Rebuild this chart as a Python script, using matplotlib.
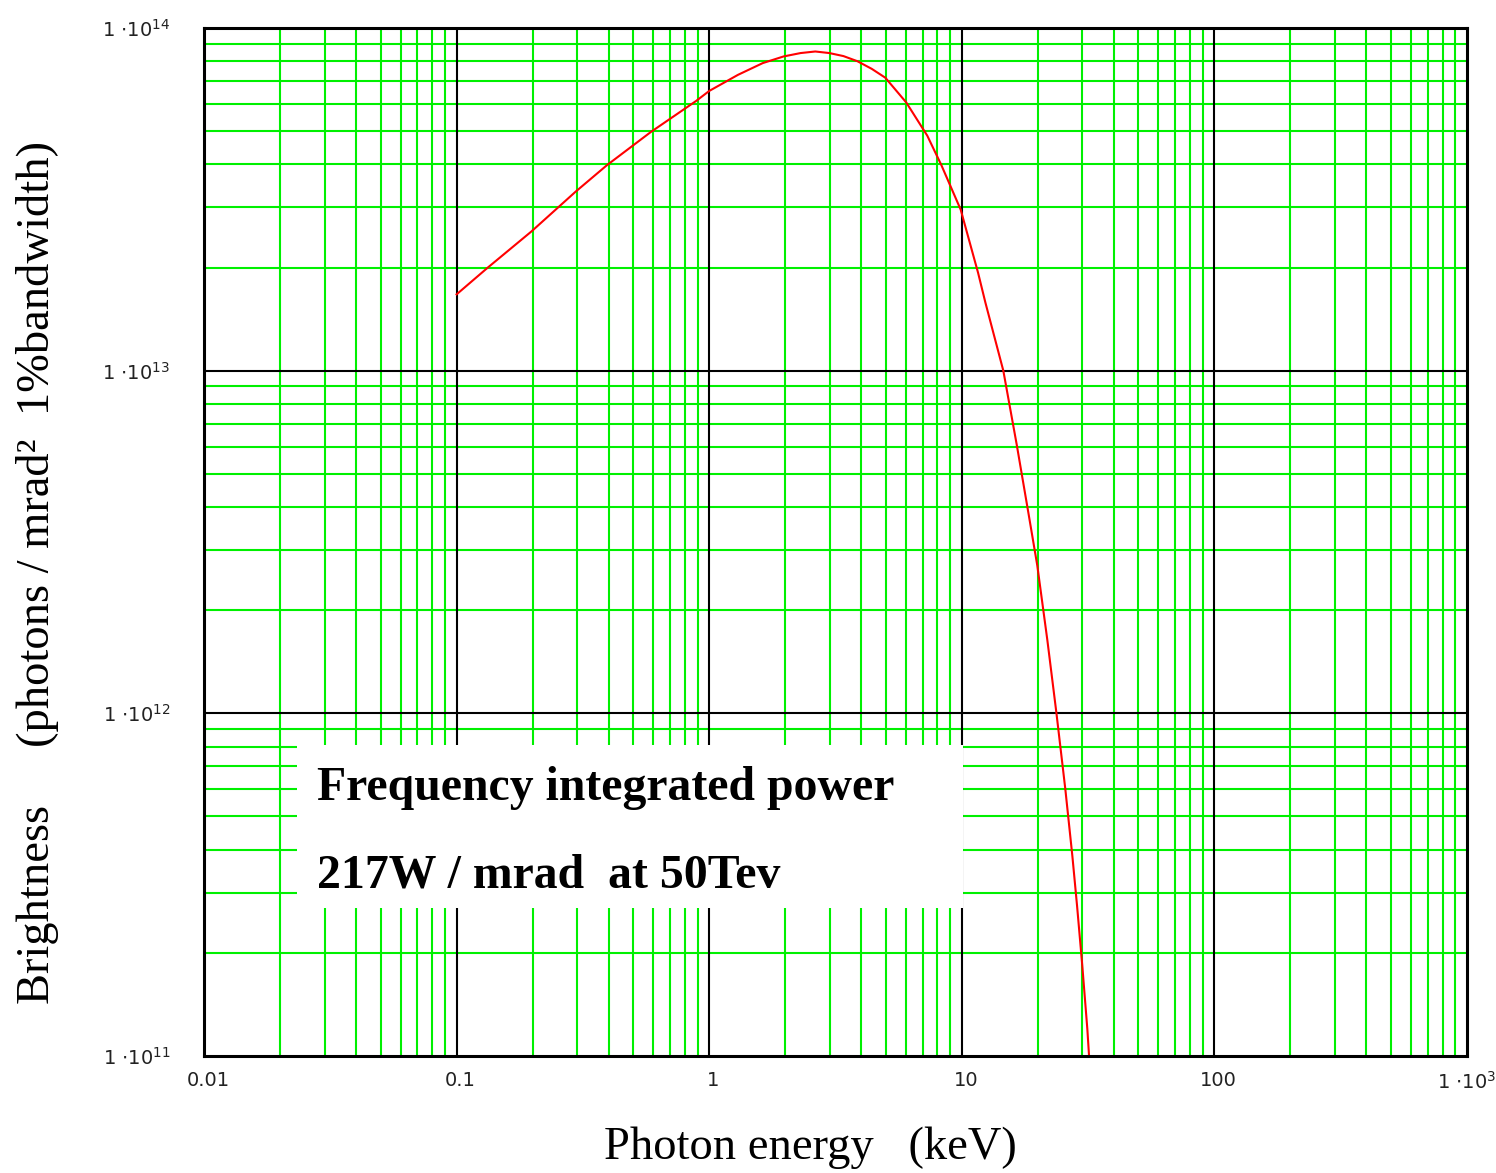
import matplotlib
matplotlib.use("Agg")
import matplotlib.pyplot as plt
from matplotlib.patches import Rectangle
from matplotlib.transforms import ScaledTranslation

# Data (photon energy keV, brightness)
energy_kev = [0.1, 0.133, 0.198, 0.296, 0.394, 0.587, 0.889, 1.0, 1.3, 1.63, 1.97,
              2.3, 2.63, 2.99, 3.4, 3.86, 4.4, 4.98, 6.03, 7.3, 8.3, 9.9, 11.6,
              12.4, 14.6, 16.5, 18.4, 19.9, 21.8, 23.7, 25.7, 27.4, 28.6, 30.0,
              31.4, 31.9]
brightness = [1.67e13, 2.0e13, 2.55e13, 3.33e13, 3.98e13, 4.97e13, 6.13e13, 6.55e13,
              7.3e13, 7.9e13, 8.26e13, 8.45e13, 8.54e13, 8.45e13, 8.28e13, 8.0e13,
              7.6e13, 7.16e13, 6.06e13, 4.85e13, 3.98e13, 2.95e13, 1.93e13,
              1.58e13, 1.0e13, 6.08e12, 3.8e12, 2.7e12, 1.64e12, 1.0e12, 6.0e11,
              3.83e11, 2.74e11, 1.83e11, 1.2e11, 1.0e11]

xtick_vals = [0.01, 0.1, 1, 10, 100, 1000]
xtick_labels = ["0.01", "0.1", "1", "10", "100", r"$1\ {\cdot}10^{3}$"]
ytick_vals = [1e11, 1e12, 1e13, 1e14]
ytick_labels = [r"$1\ {\cdot}10^{11}$", r"$1\ {\cdot}10^{12}$",
                r"$1\ {\cdot}10^{13}$", r"$1\ {\cdot}10^{14}$"]

annotation_lines = ["Frequency integrated power", "217W / mrad  at 50Tev"]

W, H = 1496, 1173
fig = plt.figure(figsize=(W / 100, H / 100), dpi=100)
L, R, T, B = 204, 1467, 28, 1056
ax = fig.add_axes([L / W, 1 - B / H, (R - L) / W, (B - T) / H])
ax.set_xscale("log")
ax.set_yscale("log")
ax.set_xlim(0.01, 1000)
ax.set_ylim(1e11, 1e14)

green = "#00f000"
# minor grid
for dec in [0.01, 0.1, 1, 10, 100]:
    for k in range(2, 10):
        ax.axvline(dec * k, color=green, lw=1.5, zorder=1)
for dec in [1e11, 1e12, 1e13]:
    for k in range(2, 10):
        ax.axhline(dec * k, color=green, lw=1.5, zorder=1)
# major grid
for v in xtick_vals[1:-1]:
    ax.axvline(v, color="black", lw=1.5, zorder=2)
for v in ytick_vals[1:-1]:
    ax.axhline(v, color="black", lw=1.5, zorder=2)

ax.plot(energy_kev, brightness, color="red", lw=1.5, zorder=5)

for s in ax.spines.values():
    s.set_linewidth(2.2)
    s.set_color("black")
    s.set_zorder(6)

ax.minorticks_off()
ax.set_xticks(xtick_vals)
ax.set_xticklabels(xtick_labels)
ax.set_yticks(ytick_vals)
ax.set_yticklabels(ytick_labels)
ax.tick_params(axis="both", length=0, labelsize=14, colors="#222222")
ax.tick_params(axis="x", pad=11)
ax.tick_params(axis="y", pad=24)
ax.minorticks_off()
for lab in ax.get_xticklabels()[:-1]:
    lab.set_transform(lab.get_transform() + ScaledTranslation(4 / 100, 0, fig.dpi_scale_trans))

# white annotation box
bx0 = (297 - L) / (R - L)
bx1 = (963 - L) / (R - L)
by0 = (B - 908) / (B - T)
by1 = (B - 745) / (B - T)
ax.add_patch(Rectangle((bx0, by0), bx1 - bx0, by1 - by0, transform=ax.transAxes,
                       facecolor="white", edgecolor="none", zorder=3))
serif = ["Liberation Serif", "DejaVu Serif"]
fig.text(317 / W, 1 - 800 / H, annotation_lines[0], family=serif, weight="bold",
         fontsize=34.4, ha="left", va="baseline", zorder=10)
fig.text(317 / W, 1 - 888 / H, annotation_lines[1], family=serif, weight="bold",
         fontsize=34.4, ha="left", va="baseline", zorder=10)

fig.text(810 / W, 1 - 1148 / H, "Photon energy   (keV)", family=serif,
         fontsize=33.5, ha="center", va="center")
fig.text(38 / W, 1 - 572 / H, "Brightness     (photons / mrad\u00b2  1%bandwidth)",
         family=serif, fontsize=33.5, rotation=90, ha="center", va="center")

fig.savefig("out.png", dpi=100, facecolor="white")
